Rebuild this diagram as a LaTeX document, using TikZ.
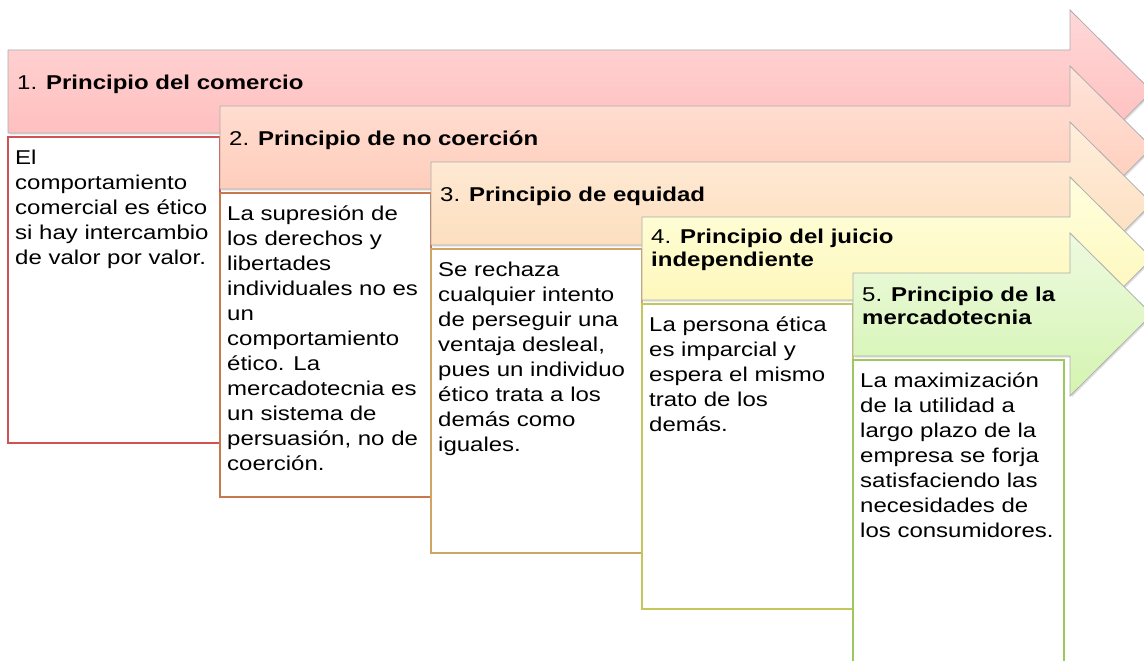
\documentclass[tikz,border=0pt]{standalone}
\usepackage{fontspec}
\setmainfont{Liberation Sans}[FakeStretch=1.2]
\usetikzlibrary{shadows}
\definecolor{rojoA}{RGB}{255,216,216}
\definecolor{rojoB}{RGB}{255,183,183}
\definecolor{naranjaA}{RGB}{255,228,218}
\definecolor{naranjaB}{RGB}{255,198,178}
\definecolor{durazA}{RGB}{255,238,220}
\definecolor{durazB}{RGB}{252,218,182}
\definecolor{amarA}{RGB}{255,255,222}
\definecolor{amarB}{RGB}{253,245,178}
\definecolor{verdeA}{RGB}{238,250,224}
\definecolor{verdeB}{RGB}{212,244,176}
\definecolor{borde1}{RGB}{208,82,82}
\definecolor{borde2}{RGB}{200,120,78}
\definecolor{borde3}{RGB}{208,165,100}
\definecolor{borde4}{RGB}{196,200,92}
\definecolor{borde5}{RGB}{156,200,92}

\begin{document}
\begin{tikzpicture}[x=1pt, y=-1pt,
    flecha/.style={draw=gray!65, line width=0.8pt, drop shadow={opacity=0.25, shadow xshift=1.5pt, shadow yshift=-1.5pt}},
    titulo/.style={anchor=west, align=left, inner sep=0pt, font=\fontsize{20}{23}\selectfont},
    caja/.style={line width=1.4pt, fill=white},
    texto/.style={anchor=north west, align=left, inner sep=0pt, font=\fontsize{20}{25}\selectfont}
]
    \useasboundingbox (0,0) rectangle (1144,661);
    \clip (0,0) rectangle (1144,661);

    \path[flecha, top color=rojoA, bottom color=rojoB] (8,50) -- (1070,50) -- (1070,10) -- (1152,91.5) -- (1070,173) -- (1070,133) -- (8,133) -- cycle;
    \node[titulo] (t1) at (17,84) {1. \textbf{Principio del comercio}};
    \draw[caja, draw=borde1] (8,137) rectangle (220,443);
    \node[texto] (d1) at (15,150) {El\\comportamiento\\comercial es ético\\si hay intercambio\\de valor por valor.};

    \path[flecha, top color=naranjaA, bottom color=naranjaB] (220,106) -- (1070,106) -- (1070,66) -- (1152,147.5) -- (1070,229) -- (1070,189) -- (220,189) -- cycle;
    \node[titulo] (t2) at (229,140) {2. \textbf{Principio de no coerción}};
    \draw[caja, draw=borde2] (220,193) rectangle (431,497);
    \node[texto] (d2) at (227,206) {La supresión de\\los derechos y\\libertades\\individuales no es\\un\\comportamiento\\ético. La\\mercadotecnia es\\un sistema de\\persuasión, no de\\coerción.};

    \path[flecha, top color=durazA, bottom color=durazB] (431,162) -- (1070,162) -- (1070,122) -- (1152,203.5) -- (1070,285) -- (1070,245) -- (431,245) -- cycle;
    \node[titulo] (t3) at (440,196) {3. \textbf{Principio de equidad}};
    \draw[caja, draw=borde3] (431,249) rectangle (642,553);
    \node[texto] (d3) at (438,262) {Se rechaza\\cualquier intento\\de perseguir una\\ventaja desleal,\\pues un individuo\\ético trata a los\\demás como\\iguales.};

    \path[flecha, top color=amarA, bottom color=amarB] (642,217) -- (1070,217) -- (1070,177) -- (1152,258.5) -- (1070,340) -- (1070,300) -- (642,300) -- cycle;
    \node[titulo] (t4) at (651,250) {4. \textbf{Principio del juicio}\\\textbf{independiente}};
    \draw[caja, draw=borde4] (642,304) rectangle (853,609);
    \node[texto] (d4) at (649,317) {La persona ética\\es imparcial y\\espera el mismo\\trato de los\\demás.};

    \path[flecha, top color=verdeA, bottom color=verdeB] (853,273) -- (1070,273) -- (1070,233) -- (1152,314.5) -- (1070,396) -- (1070,356) -- (853,356) -- cycle;
    \node[titulo] (t5) at (862,306) {5. \textbf{Principio de la}\\\textbf{mercadotecnia}};
    \draw[caja, draw=borde5] (853,360) rectangle (1064,690);
    \node[texto] (d5) at (860,373) {La maximización\\de la utilidad a\\largo plazo de la\\empresa se forja\\satisfaciendo las\\necesidades de\\los consumidores.};
\end{tikzpicture}
\end{document}
